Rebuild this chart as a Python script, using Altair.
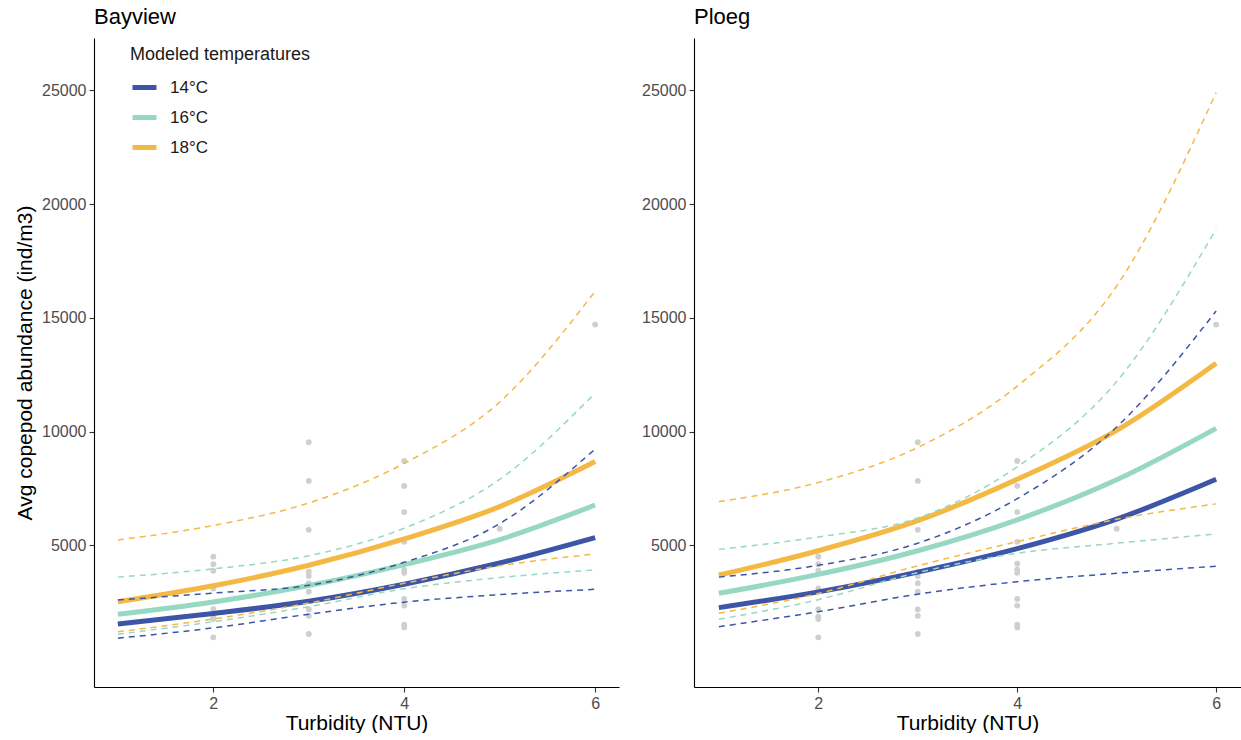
import altair as alt
import pandas as pd

# ---------------- data ----------------
x_vals = [1, 2, 3, 4, 5, 6]
temps = ["14°C", "16°C", "18°C"]
temp_colors = ["#3D55A7", "#96D8C1", "#F4B844"]

# Bayview: fitted curves and confidence bounds
bay_14_fit = [1540, 2000, 2540, 3290, 4220, 5340]
bay_16_fit = [1965, 2510, 3230, 4150, 5250, 6770]
bay_18_fit = [2520, 3220, 4120, 5280, 6700, 8680]
bay_14_lo = [915, 1370, 1970, 2500, 2830, 3065]
bay_16_lo = [1090, 1640, 2300, 3090, 3580, 3915]
bay_18_lo = [1195, 1760, 2460, 3330, 4100, 4620]
bay_14_hi = [2595, 2900, 3240, 4250, 5950, 9230]
bay_16_hi = [3600, 3965, 4540, 5750, 7900, 11690]
bay_18_hi = [5230, 5870, 6860, 8600, 11300, 16160]

# Ploeg: fitted curves and confidence bounds
plo_14_fit = [2260, 2950, 3820, 4850, 6150, 7900]
plo_16_fit = [2890, 3720, 4760, 6120, 7880, 10140]
plo_18_fit = [3690, 4760, 6080, 7900, 10050, 13000]
plo_14_lo = [1420, 2080, 2850, 3400, 3770, 4080]
plo_16_lo = [1745, 2610, 3800, 4650, 5090, 5500]
plo_18_lo = [2010, 2880, 4100, 5160, 6140, 6820]
plo_14_hi = [3600, 4120, 5090, 7050, 10200, 15300]
plo_16_hi = [4820, 5365, 6200, 8450, 12200, 18900]
plo_18_hi = [6920, 7760, 9300, 12000, 16400, 24900]

# observations (grey points, same in both panels)
obs_turbidity = [2, 2, 2, 2, 2, 2, 2, 2,
                 3, 3, 3, 3, 3, 3, 3, 3, 3, 3,
                 4, 4, 4, 4, 4, 4, 4, 4, 4, 4, 4,
                 5, 6]
obs_abundance = [4500, 4165, 3880, 3100, 2190, 1860, 1760, 955,
                 9530, 7830, 5680, 3840, 3650, 3330, 2960, 2180, 1900, 1100,
                 8710, 7610, 6460, 5150, 4190, 3930, 3790, 2640, 2350, 1510, 1390,
                 5730, 14700]

x_ticks = [2, 4, 6]
y_ticks = [5000, 10000, 15000, 20000, 25000]

# ---------------- tables ----------------
series = {
    ("Bayview", "14°C", "fit"): bay_14_fit, ("Bayview", "16°C", "fit"): bay_16_fit,
    ("Bayview", "18°C", "fit"): bay_18_fit, ("Bayview", "14°C", "lo"): bay_14_lo,
    ("Bayview", "16°C", "lo"): bay_16_lo, ("Bayview", "18°C", "lo"): bay_18_lo,
    ("Bayview", "14°C", "hi"): bay_14_hi, ("Bayview", "16°C", "hi"): bay_16_hi,
    ("Bayview", "18°C", "hi"): bay_18_hi,
    ("Ploeg", "14°C", "fit"): plo_14_fit, ("Ploeg", "16°C", "fit"): plo_16_fit,
    ("Ploeg", "18°C", "fit"): plo_18_fit, ("Ploeg", "14°C", "lo"): plo_14_lo,
    ("Ploeg", "16°C", "lo"): plo_16_lo, ("Ploeg", "18°C", "lo"): plo_18_lo,
    ("Ploeg", "14°C", "hi"): plo_14_hi, ("Ploeg", "16°C", "hi"): plo_16_hi,
    ("Ploeg", "18°C", "hi"): plo_18_hi,
}
rows = []
for (site, temp, kind), vals in series.items():
    for xv, yv in zip(x_vals, vals):
        rows.append({"site": site, "temp": temp, "kind": kind,
                     "series": f"{temp}-{kind}", "x": xv, "y": yv})
lines_df = pd.DataFrame(rows)
pts_df = pd.DataFrame({"x": obs_turbidity, "y": obs_abundance})

FONT = "Liberation Sans"
x_scale = alt.Scale(domain=[0.75, 6.25], nice=False, zero=False)
y_scale = alt.Scale(domain=[-1230, 27300], nice=False, zero=False)
col_scale = alt.Scale(domain=temps, range=temp_colors)


def panel(site, width, show_ytitle, show_legend):
    X = alt.X("x:Q", scale=x_scale,
              axis=alt.Axis(values=x_ticks, title="Turbidity (NTU)", format="d",
                            titlePadding=1))
    Y = alt.Y("y:Q", scale=y_scale,
              axis=alt.Axis(values=y_ticks, format="d", titlePadding=6,
                            title="Avg copepod abundance (ind/m3)" if show_ytitle else ""))
    pts = alt.Chart(pts_df).mark_circle(size=34, color="#CFCFCF", opacity=1).encode(x=X, y=Y)
    sub = lines_df[lines_df["site"] == site]
    if show_legend:
        leg = alt.Legend(title="Modeled temperatures", orient="none", legendX=36, legendY=8,
                         symbolType="stroke", symbolSize=576, symbolStrokeWidth=5,
                         labelFontSize=17, titleFontSize=18, titleFontWeight="normal",
                         titleLimit=400, labelLimit=200,
                         labelOffset=11, rowPadding=5, titlePadding=9,
                         labelColor="#1A1A1A", titleColor="#1A1A1A", labelFont=FONT, titleFont=FONT)
    else:
        leg = None
    fit = alt.Chart(sub[sub["kind"] == "fit"]).mark_line(
        strokeWidth=5, interpolate="monotone").encode(
        x=X, y=Y, color=alt.Color("temp:N", scale=col_scale, legend=leg, sort=temps))
    ci = alt.Chart(sub[sub["kind"] != "fit"]).mark_line(
        strokeWidth=1.5, strokeDash=[6, 5], interpolate="monotone").encode(
        x=X, y=Y, stroke=alt.Stroke("temp:N", scale=col_scale, legend=None),
        detail="series:N")
    return alt.layer(pts, fit, ci).properties(
        width=width, height=649,
        title=alt.Title(site, anchor="start", frame="group", fontSize=22,
                        fontWeight="normal", offset=9, font=FONT, color="#000000"))


left = panel("Bayview", 525, True, True)
right = panel("Ploeg", 547, False, False)

chart = alt.hconcat(left, right, spacing=75, bounds="flush").resolve_scale(
    color="independent", stroke="independent").resolve_legend(
    color="independent", stroke="independent").properties(
    padding={"left": 14, "top": 6, "right": 0, "bottom": 0},
    autosize=alt.AutoSizeParams(type="pad")
).configure(font=FONT).configure_view(stroke=None).configure_axis(
    grid=False, domainColor="#000000", domainWidth=1.1, tickColor="#333333",
    tickSize=5, tickWidth=1.1, labelColor="#4D4D4D", labelFontSize=16, labelPadding=3,
    titleColor="#000000", titleFontSize=21, titleFontWeight="normal",
    labelFont=FONT, titleFont=FONT)

chart.save("out.html", embed_options={"renderer": "svg", "actions": False})
